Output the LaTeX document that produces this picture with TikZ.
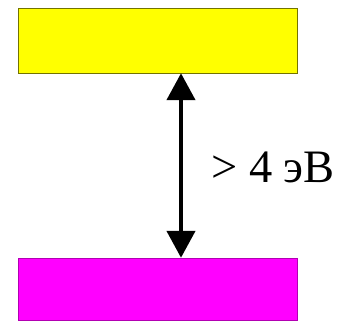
\documentclass[tikz,border=0pt]{standalone}
\usepackage{fontspec}
\setmainfont{Liberation Serif}
\usepackage{tikz}
\usetikzlibrary{arrows.meta, positioning}
\definecolor{bandyellow}{RGB}{255,255,0}
\definecolor{bandmagenta}{RGB}{255,0,255}
\tikzstyle{band} = [draw, rectangle, minimum width=279pt, minimum height=65pt, inner sep=0pt, thin]
\tikzstyle{gaparrow} = [line width=4.5pt, {Triangle[width=28pt,length=27pt]}-{Triangle[width=28pt,length=27pt]}]

\begin{document}
\begin{tikzpicture}[x=1pt, y=-1pt]
    \useasboundingbox (0,0) rectangle (341,321);
    \node [band, fill=bandyellow, draw=bandyellow!45!black] at (157.5,40.5) (conduction) {};
    \node [band, fill=bandmagenta, draw=bandmagenta!70!black, minimum height=62pt] at (157.5,289) (valence) {};
    \draw [gaparrow] ([xshift=23.5pt]conduction.south) -- ([xshift=23.5pt]valence.north);
    \node [anchor=base west, inner sep=0pt, font=\fontsize{46.5}{56}\selectfont] at (211,183) (gap) {> 4 эВ};
\end{tikzpicture}
\end{document}
